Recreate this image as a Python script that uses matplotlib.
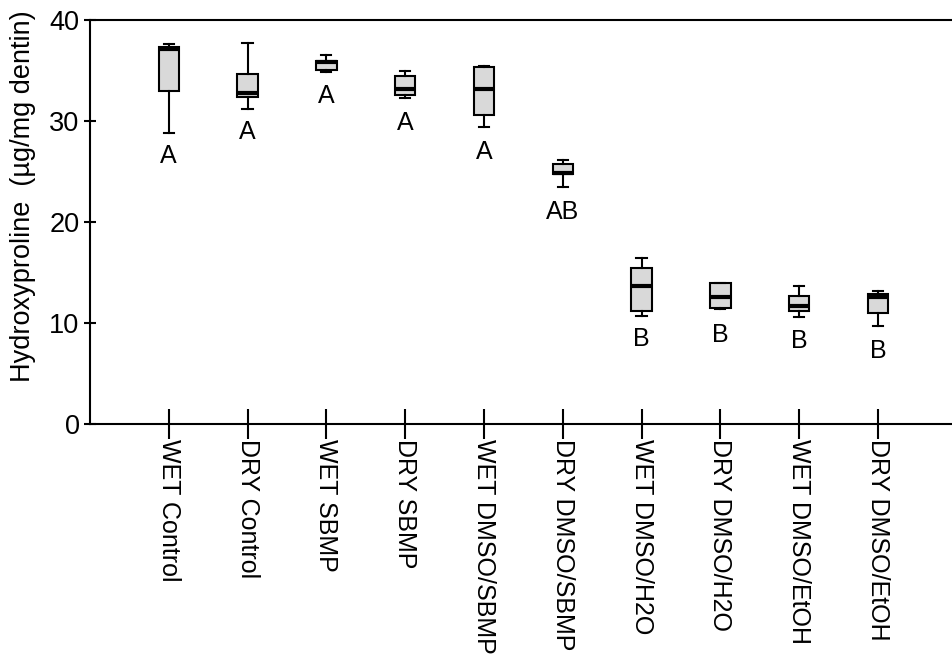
""" hydroxyproline boxplot per treatment group """

import numpy as np
import matplotlib.pyplot as plt

plt.rcParams['font.family'] = ['Liberation Sans', 'DejaVu Sans']

#%% data
groups = ['WET Control', 'DRY Control', 'WET SBMP', 'DRY SBMP', 'WET DMSO/SBMP',
          'DRY DMSO/SBMP', 'WET DMSO/H2O', 'DRY DMSO/H2O', 'WET DMSO/EtOH', 'DRY DMSO/EtOH']
whis_hi = [37.6, 37.7, 36.5, 34.9, 35.4, 26.1, 16.4, 13.95, 13.65, 13.1]
q3 = [37.3, 34.6, 35.95, 34.4, 35.3, 25.75, 15.4, 13.95, 12.65, 12.8]
med = [37.1, 32.7, 35.8, 33.1, 33.15, 24.8, 13.6, 12.5, 11.7, 12.55]
q1 = [32.9, 32.3, 35.05, 32.5, 30.6, 24.7, 11.2, 11.45, 11.2, 11.0]
whis_lo = [28.8, 31.2, 34.8, 32.2, 29.4, 23.4, 10.7, 11.4, 10.6, 9.7]
letters = ['A', 'A', 'A', 'A', 'A', 'AB', 'B', 'B', 'B', 'B']
letter_y = [26.5, 28.9, 32.4, 29.8, 26.9, 21.0, 8.4, 8.8, 8.2, 7.2]

#%% build stats for bxp
stats = []
for i in range(len(groups)):
    stats.append({'whislo': whis_lo[i], 'q1': q1[i], 'med': med[i], 'q3': q3[i],
                  'whishi': whis_hi[i], 'fliers': [], 'label': groups[i]})

fig = plt.figure(figsize=(9.52, 6.55), dpi=100)
ax = fig.add_axes([0.0945, 0.353, 0.9055, 0.617])

pos = np.arange(1, len(groups) + 1)
ax.bxp(stats, positions=pos, widths=0.26, patch_artist=True, showfliers=False,
       boxprops={'facecolor': '#d9d9d9', 'edgecolor': 'k', 'linewidth': 1.5},
       medianprops={'color': 'k', 'linewidth': 3, 'solid_capstyle': 'butt'},
       whiskerprops={'color': 'k', 'linewidth': 1.5},
       capprops={'color': 'k', 'linewidth': 1.5}, capwidths=0.13)

for i in range(len(groups)):
    ax.text(pos[i], letter_y[i], letters[i], ha='center', va='center', fontsize=18)

ax.set_xlim(0, 10.94)
ax.set_ylim(0, 40)
ax.set_yticks([0, 10, 20, 30, 40])
ax.set_xticks(pos)
ax.set_xticklabels(groups, rotation=-90, ha='center', va='top', fontsize=18)
ax.tick_params(axis='x', direction='inout', length=22, width=1.5, pad=0)
ax.tick_params(axis='y', direction='inout', length=9, width=1.5, pad=3, labelsize=19.5)
ax.spines['right'].set_visible(False)
for s in ['top', 'bottom', 'left']:
    ax.spines[s].set_linewidth(1.5)
ax.set_ylabel('Hydroxyproline  (\u00b5g/mg dentin)', fontsize=19.5)
ax.yaxis.set_label_coords(-0.0626, 0.562)

plt.savefig('out.png', dpi=100)
